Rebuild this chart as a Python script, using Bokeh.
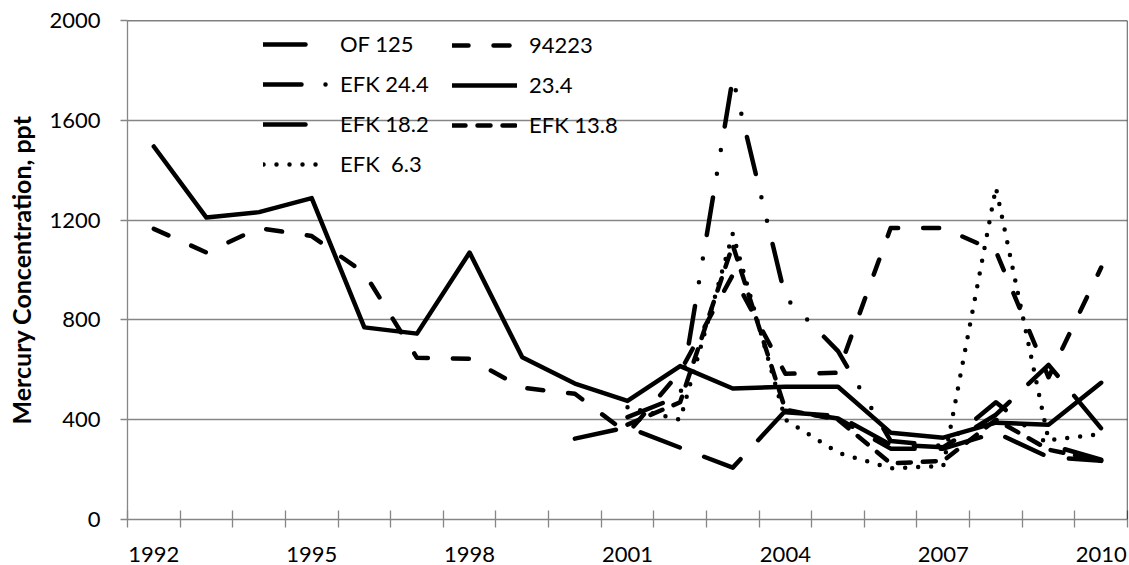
from bokeh.plotting import figure
from bokeh.models import FixedTicker, Legend, LegendItem, Span
from bokeh.embed import file_html
from bokeh.resources import INLINE

nan = float("nan")
years = list(range(1992, 2011))
year_labels = ["1992", "1995", "1998", "2001", "2004", "2007", "2010"]
y_ticks = [0, 400, 800, 1200, 1600, 2000]

of_125 = [nan]*8 + [324, 370, 288, 208, 436, 405, 284, 284, 348, 250, 235]
s_94223 = [1165, 1070, 1168, 1136, 988, 648, 644, 528, 504, 345, 592, 980, 584, 588, 1168, 1168, 1075, 570, 1010]
efk_24_4 = [nan]*9 + [410, 495, 1770, 890, 675, 315, 295, 470, 300, 240]
s_23_4 = [1495, 1210, 1232, 1288, 770, 745, 1070, 650, 545, 475, 615, 525, 532, 532, 348, 328, 388, 380, 548]
efk_18_2 = [nan]*12 + [430, 415, 300, 290, 420, 620, 365]
efk_13_8 = [nan]*9 + [380, 470, 1100, 440, 400, 225, 235, 400, 280, 235]
efk_6_3 = [nan]*9 + [450, 400, 1145, 400, 268, 205, 215, 1330, 318, 342]

x = list(range(len(years)))
FONT = "Lato"
GRAY = "#868686"
FS = "22px"

p = figure(width=1129, height=565, output_backend="svg", toolbar_location=None,
           x_range=(-0.5, 18.5), y_range=(0, 2000),
           min_border_left=127, min_border_right=2, min_border_top=20, min_border_bottom=46)
p.outline_line_color = None
p.background_fill_color = "white"
p.xgrid.grid_line_color = None
p.ygrid.grid_line_color = GRAY
p.ygrid.grid_line_width = 1.3
p.ygrid.ticker = FixedTicker(ticks=y_ticks)

# x axis
p.xaxis.ticker = FixedTicker(ticks=[years.index(int(y)) for y in year_labels],
                             minor_ticks=[i - 0.5 for i in range(len(years) + 1)])
p.xaxis.major_label_overrides = {years.index(int(y)): y for y in year_labels}
p.xaxis.major_tick_in = 0
p.xaxis.major_tick_out = 0
p.xaxis.minor_tick_in = 9
p.xaxis.minor_tick_out = 8
p.xaxis.minor_tick_line_color = GRAY
p.xaxis.minor_tick_line_width = 1.3
p.xaxis.axis_line_color = GRAY
p.xaxis.axis_line_width = 1.3
p.xaxis.major_label_standoff = 19
p.xaxis.major_label_text_font = FONT
p.xaxis.major_label_text_font_size = FS
p.xaxis.major_label_text_color = "black"

# y axis
p.yaxis.ticker = FixedTicker(ticks=y_ticks, minor_ticks=[])
p.yaxis.major_tick_in = 0
p.yaxis.major_tick_out = 7
p.yaxis.major_tick_line_color = GRAY
p.yaxis.major_tick_line_width = 1.3
p.yaxis.axis_line_color = GRAY
p.yaxis.axis_line_width = 1.3
p.yaxis.major_label_standoff = 20
p.yaxis.major_label_text_font = FONT
p.yaxis.major_label_text_font_size = FS
p.yaxis.major_label_text_color = "black"
p.yaxis.axis_label = "Mercury Concentration, ppt"
p.yaxis.axis_label_text_font = FONT
p.yaxis.axis_label_text_font_style = "bold"
p.yaxis.axis_label_text_font_size = "25px"
p.yaxis.axis_label_text_color = "black"
p.yaxis.axis_label_standoff = 10

# plot-area border (top and right)
p.add_layout(Span(location=2000, dimension="width", line_color="black", line_width=1.3))
p.add_layout(Span(location=18.5, dimension="height", line_color="black", line_width=1.3))

W = 4.5
styles = [
    ("OF 125", of_125, "42 26"),
    ("94223", s_94223, "16 25"),
    ("EFK 24.4", efk_24_4, "38 24 0 24 0 24"),
    ("23.4", s_23_4, "solid"),
    ("EFK 18.2", efk_18_2, "42 26"),
    ("EFK 13.8", efk_13_8, "13 12"),
    ("EFK  6.3", efk_6_3, "0 13"),
]
rends = {}
for name, vals, dash in styles:
    r = p.line(x, vals, line_color="black", line_width=W, line_dash=dash,
               line_cap="round", line_join="round")
    rends[name] = r

left_items = ["OF 125", "EFK 24.4", "EFK 18.2", "EFK  6.3"]
right_items = ["94223", "23.4", "EFK 13.8"]

def make_legend(names, loc):
    return Legend(items=[LegendItem(label=n, renderers=[rends[n]]) for n in names],
                  location=loc, orientation="vertical",
                  glyph_width=65, glyph_height=20, label_height=20, spacing=13,
                  label_standoff=12, padding=0, margin=0,
                  border_line_color=None, background_fill_alpha=0,
                  label_text_font=FONT, label_text_font_size=FS,
                  label_text_color="black")

p.add_layout(make_legend(left_items, (136, 342)))
p.add_layout(make_legend(right_items, (325, 381)))

open("out.html", "w").write(file_html(p, INLINE))
